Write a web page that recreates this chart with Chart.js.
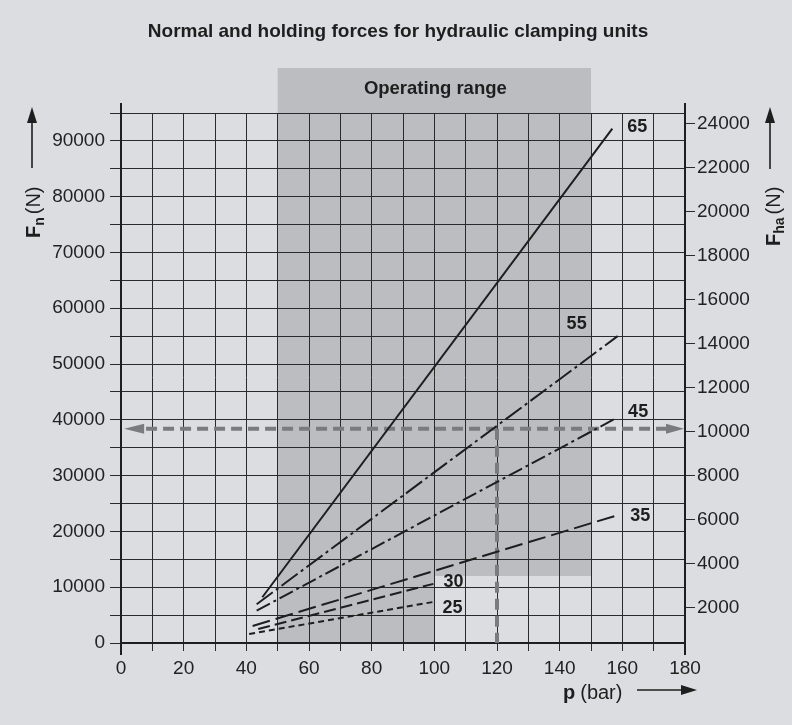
<!DOCTYPE html>
<html>
<head>
<meta charset="utf-8">
<script src="https://cdn.jsdelivr.net/npm/chart.js@4.4.0/dist/chart.umd.min.js"></script>
<style>
  html, body { margin: 0; padding: 0; background: #dcdde0; }
  canvas { display: block; }
</style>
</head>
<body>
<canvas id="myChart" width="792" height="725"></canvas>
<script>
// curve data: piston size, pressure (bar) and normal force (N) at both ends
const curveNames = ['65', '55', '45', '35', '30', '25'];
const curvePressure = [[45.1, 156.8], [43.3, 158.5], [43.3, 157.7], [42.0, 159.0], [43.8, 99.7], [40.9, 99.7]];
const curveForce = [[8200, 92200], [6950, 55000], [5800, 40200], [3050, 23000], [2510, 10600], [1620, 7360]];

// tick labels
const pressureLabels = [0, 20, 40, 60, 80, 100, 120, 140, 160, 180];
const normalLabels = [0, 10000, 20000, 30000, 40000, 50000, 60000, 70000, 80000, 90000];
const holdingLabels = [2000, 4000, 6000, 8000, 10000, 12000, 14000, 16000, 18000, 20000, 22000, 24000];

// reading example and operating range
const readPressure = 120;
const readForce = 38400;
const rangePressure = [50, 100, 150];
const rangeFloorForce = 12000;

// styles
const curveDash = [[], [20, 4, 3, 4], [15, 4, 3, 4], [18, 6], [12, 5], [6, 4]];
const labelOffset = [[25, -2], [-41, -12], [23, -7], [21, 1], [20, -2], [19, 6]];
const FONT = '"Liberation Sans", Arial, Helvetica, sans-serif';
const INK = '#1e1e1e';
const DARK = '#bcbdc0';
const LIGHT = '#dcdde0';
const GUIDE = '#7a7b7e';

const datasets = curveNames.map((name, i) => ({
  label: name,
  data: curvePressure[i].map((p, j) => ({ x: p, y: curveForce[i][j] })),
  showLine: true,
  borderColor: INK,
  borderWidth: 2,
  borderDash: curveDash[i],
  pointRadius: 0,
  yAxisID: 'y'
}));
datasets.push({
  label: 'read-h',
  data: [{ x: 8, y: readForce }, { x: 174, y: readForce }],
  showLine: true, borderColor: GUIDE, borderWidth: 4, borderDash: [11, 6],
  pointRadius: 0, yAxisID: 'y'
});
datasets.push({
  label: 'read-v',
  data: [{ x: readPressure, y: readForce }, { x: readPressure, y: 0 }],
  showLine: true, borderColor: GUIDE, borderWidth: 4, borderDash: [11, 6],
  pointRadius: 0, yAxisID: 'y'
});

function arrow(ctx, x, y, dir, len, half) {
  ctx.beginPath();
  if (dir === 'up') { ctx.moveTo(x, y); ctx.lineTo(x - half, y + len); ctx.lineTo(x + half, y + len); }
  if (dir === 'right') { ctx.moveTo(x, y); ctx.lineTo(x - len, y - half); ctx.lineTo(x - len, y + half); }
  if (dir === 'left') { ctx.moveTo(x, y); ctx.lineTo(x + len, y - half); ctx.lineTo(x + len, y + half); }
  ctx.closePath();
  ctx.fill();
}

const decor = {
  id: 'decor',
  beforeDraw(chart) {
    const { ctx, chartArea, scales } = chart;
    const xs = scales.x, ys = scales.y;
    ctx.save();
    ctx.fillStyle = LIGHT;
    ctx.fillRect(0, 0, chart.width, chart.height);
    const x0 = xs.getPixelForValue(rangePressure[0]);
    const x1 = xs.getPixelForValue(rangePressure[1]);
    const x2 = xs.getPixelForValue(rangePressure[2]);
    const yTop = chartArea.top - 45;
    const yBot = ys.getPixelForValue(0);
    const yFloor = ys.getPixelForValue(rangeFloorForce);
    ctx.fillStyle = DARK;
    ctx.beginPath();
    ctx.moveTo(x0, yTop); ctx.lineTo(x2, yTop); ctx.lineTo(x2, yFloor);
    ctx.lineTo(x1, yFloor); ctx.lineTo(x1, yBot); ctx.lineTo(x0, yBot);
    ctx.closePath();
    ctx.fill();
    ctx.fillStyle = INK;
    ctx.font = 'bold 18.5px ' + FONT;
    ctx.textAlign = 'center';
    ctx.textBaseline = 'middle';
    ctx.fillText('Operating range', x1 + 1, chartArea.top - 24);
    // title
    ctx.font = 'bold 19px ' + FONT;
    ctx.fillText('Normal and holding forces for hydraulic clamping units', 398, 32);
    ctx.restore();
  },
  afterDatasetsDraw(chart) {
    const { ctx, chartArea, scales } = chart;
    const xs = scales.x, ys = scales.y;
    ctx.save();
    // curve labels
    ctx.fillStyle = INK;
    ctx.font = 'bold 18px ' + FONT;
    ctx.textAlign = 'center';
    ctx.textBaseline = 'middle';
    curveNames.forEach((name, i) => {
      const px = xs.getPixelForValue(curvePressure[i][1]);
      const py = ys.getPixelForValue(curveForce[i][1]);
      ctx.fillText(name, px + labelOffset[i][0], py + labelOffset[i][1]);
    });
    // guide arrowheads
    ctx.fillStyle = GUIDE;
    const gy = ys.getPixelForValue(readForce);
    arrow(ctx, xs.getPixelForValue(1), gy, 'left', 20, 5);
    arrow(ctx, xs.getPixelForValue(180) - 1, gy, 'right', 18, 5);
    // axis extensions
    ctx.strokeStyle = INK;
    ctx.lineWidth = 2;
    ctx.beginPath();
    ctx.moveTo(chartArea.left, chartArea.top - 10); ctx.lineTo(chartArea.left, chartArea.bottom + 12);
    ctx.moveTo(chartArea.right, chartArea.top - 10); ctx.lineTo(chartArea.right, chartArea.bottom + 12);
    ctx.stroke();
    // axis titles with arrows
    ctx.fillStyle = INK;
    ctx.lineWidth = 1.6;
    // left
    ctx.beginPath(); ctx.moveTo(32, 168); ctx.lineTo(32, 120); ctx.stroke();
    arrow(ctx, 32, 107, 'up', 16, 5);
    ctx.save();
    ctx.translate(40, 238);
    ctx.rotate(-Math.PI / 2);
    ctx.textAlign = 'left';
    ctx.textBaseline = 'alphabetic';
    ctx.font = 'bold 20px ' + FONT;
    ctx.fillText('F', 0, 0);
    let w = ctx.measureText('F').width;
    ctx.font = 'bold 14px ' + FONT;
    ctx.fillText('n', w, 4);
    w += ctx.measureText('n').width + 3;
    ctx.font = '20px ' + FONT;
    ctx.fillText('(N)', w, 0);
    ctx.restore();
    // right
    ctx.beginPath(); ctx.moveTo(770, 169); ctx.lineTo(770, 120); ctx.stroke();
    arrow(ctx, 770, 107, 'up', 16, 5);
    ctx.save();
    ctx.translate(780, 246);
    ctx.rotate(-Math.PI / 2);
    ctx.textAlign = 'left';
    ctx.textBaseline = 'alphabetic';
    ctx.font = 'bold 20px ' + FONT;
    ctx.fillText('F', 0, 0);
    w = ctx.measureText('F').width;
    ctx.font = 'bold 14px ' + FONT;
    ctx.fillText('ha', w, 4);
    w += ctx.measureText('ha').width + 3;
    ctx.font = '20px ' + FONT;
    ctx.fillText('(N)', w, 0);
    ctx.restore();
    // x title
    ctx.textAlign = 'left';
    ctx.textBaseline = 'middle';
    ctx.font = 'bold 20px ' + FONT;
    ctx.fillText('p', 563, 693);
    const pw = ctx.measureText('p').width;
    ctx.font = '20px ' + FONT;
    ctx.fillText('(bar)', 563 + pw + 5, 693);
    ctx.beginPath(); ctx.moveTo(637, 690); ctx.lineTo(684, 690); ctx.stroke();
    arrow(ctx, 697, 690, 'right', 16, 5);
    ctx.restore();
  }
};

const ctx = document.getElementById('myChart');

new Chart(ctx, {
  type: 'scatter',
  data: { datasets: datasets },
  plugins: [decor],
  options: {
    responsive: false,
    animation: false,
    layout: { padding: { top: 113, bottom: 42, left: 0, right: 0 } },
    plugins: { legend: { display: false }, tooltip: { enabled: false } },
    scales: {
      x: {
        type: 'linear', position: 'bottom', min: 0, max: 180,
        afterFit: (s) => { s.height = 40; },
        ticks: {
          stepSize: 10, autoSkip: false, maxRotation: 0, padding: 6,
          color: '#222', font: { family: FONT, size: 19 },
          callback: (v) => pressureLabels.includes(v) ? String(v) : ''
        },
        grid: { color: '#2a2a2a', lineWidth: 1, tickLength: 8 },
        border: { color: INK, width: 2 }
      },
      y: {
        type: 'linear', position: 'left', min: 0, max: 95000,
        afterFit: (s) => { s.width = 121; },
        ticks: {
          stepSize: 5000, autoSkip: false, padding: 5,
          color: '#222', font: { family: FONT, size: 19 },
          callback: (v) => normalLabels.includes(v) ? String(v) : ''
        },
        grid: { color: '#2a2a2a', lineWidth: 1, tickLength: 11 },
        border: { color: INK, width: 2 }
      },
      y2: {
        type: 'linear', position: 'right', min: 380, max: 24490,
        afterFit: (s) => { s.width = 107; },
        afterBuildTicks: (s) => { s.ticks = holdingLabels.map(v => ({ value: v })); },
        ticks: {
          autoSkip: false, padding: 2,
          color: '#222', font: { family: FONT, size: 19 },
          callback: (v) => String(v)
        },
        grid: { drawOnChartArea: false, color: '#2a2a2a', lineWidth: 1, tickLength: 10 },
        border: { color: INK, width: 2 }
      }
    }
  }
});
</script>
</body>
</html>
